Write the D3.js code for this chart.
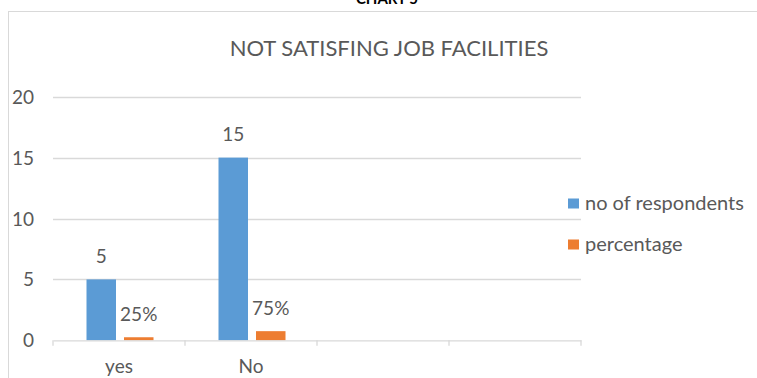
<!DOCTYPE html>
<html>
<head>
<meta charset="utf-8">
<script src="https://cdn.jsdelivr.net/npm/d3@7"></script>
<style>
  body { margin: 0; background: #fff; }
  svg text { font-family: Lato, "Open Sans", sans-serif; fill: #595959; }
</style>
</head>
<body>
<svg id="chart" width="757" height="378"></svg>
<script>
var categories = ['yes', 'No', '', ''];
var seriesNames = ['no of respondents', 'percentage'];
var respondents = [5, 15, null, null];
var percentage = [0.25, 0.75, null, null];
var percentLabels = ['25%', '75%', '', ''];
var yTicks = [0, 5, 10, 15, 20];
var colors = ['#5b9bd5', '#ed7d31'];

var svg = d3.select('#chart');
var plot = { left: 53, right: 581, top: 96.7, bottom: 340.3 };

// outer chart border (right/bottom run off the page)
svg.append('rect')
  .attr('x', 8.5).attr('y', 11.5)
  .attr('width', 760).attr('height', 380)
  .attr('fill', 'none').attr('stroke', '#d9d9d9');

// caption above the chart, cut off by the page top as in the source
svg.append('text')
  .attr('x', 387).attr('y', 4)
  .attr('text-anchor', 'middle')
  .style('font-weight', 'bold').style('font-size', '15px').style('fill', '#000')
  .text('CHART 5');

svg.append('text')
  .attr('x', 389).attr('y', 55.5)
  .attr('text-anchor', 'middle')
  .style('font-size', '22px')
  .text('NOT SATISFING JOB FACILITIES');

var x0 = d3.scaleBand().domain(d3.range(categories.length)).range([plot.left, plot.right]);
var x1 = d3.scaleBand().domain(d3.range(seriesNames.length))
  .range([33.5, x0.bandwidth() - 31.5]).paddingInner(0.2133);
var y = d3.scaleLinear().domain([0, 20]).range([plot.bottom, plot.top]);

// gridlines
svg.append('g').selectAll('line')
  .data(yTicks.filter(function(d) { return d > 0; }))
  .join('line')
  .attr('x1', plot.left).attr('x2', plot.right)
  .attr('y1', function(d) { return Math.round(y(d)) + 0.5; })
  .attr('y2', function(d) { return Math.round(y(d)) + 0.5; })
  .attr('stroke', '#d9d9d9').attr('stroke-width', 1.3);

svg.append('g').selectAll('text')
  .data(yTicks)
  .join('text')
  .attr('x', 34).attr('y', function(d) { return y(d) + 7; })
  .attr('text-anchor', 'end')
  .style('font-size', '19px')
  .text(function(d) { return d; });

// bars + data labels
var series = [respondents, percentage];
series.forEach(function(vals, s) {
  var pts = vals.map(function(v, i) { return { i: i, v: v }; }).filter(function(d) { return d.v != null; });
  svg.append('g').selectAll('rect')
    .data(pts)
    .join('rect')
    .attr('x', function(d) { return x0(d.i) + x1(s); })
    .attr('y', function(d) { return y(d.v); })
    .attr('width', x1.bandwidth())
    .attr('height', function(d) { return y(0) - y(d.v); })
    .attr('fill', colors[s]);

  svg.append('g').selectAll('text')
    .data(pts)
    .join('text')
    .attr('x', function(d) { return x0(d.i) + x1(s) + x1.bandwidth() / 2; })
    .attr('y', function(d) { return y(d.v) - 16.5; })
    .attr('text-anchor', 'middle')
    .style('font-size', '19px')
    .text(function(d) { return s === 0 ? d.v : percentLabels[d.i]; });
});

// x axis
var xAxis = svg.append('g').attr('transform', 'translate(0,' + plot.bottom + ')')
  .call(d3.axisBottom(x0).tickSize(0).tickFormat(function(i) { return categories[i]; }));
xAxis.select('.domain').attr('stroke', '#d9d9d9').attr('stroke-width', 1.3);
xAxis.selectAll('.tick text').attr('dy', null).attr('y', 33).style('font-size', '19px').style('font-family', null);
svg.append('g').selectAll('line')
  .data(d3.range(categories.length + 1))
  .join('line')
  .attr('x1', function(i) { return plot.left + i * x0.step(); })
  .attr('x2', function(i) { return plot.left + i * x0.step(); })
  .attr('y1', plot.bottom).attr('y2', plot.bottom + 5.5)
  .attr('stroke', '#d9d9d9').attr('stroke-width', 1.3);

// legend
var legend = svg.append('g').selectAll('g')
  .data(seriesNames)
  .join('g')
  .attr('transform', function(d, i) { return 'translate(568,' + (198.5 + i * 41) + ')'; });
legend.append('rect').attr('width', 11).attr('height', 10)
  .attr('fill', function(d, i) { return colors[i]; });
legend.append('text').attr('x', 17).attr('y', 11)
  .style('font-size', '20px')
  .text(function(d) { return d; });
</script>
</body>
</html>
